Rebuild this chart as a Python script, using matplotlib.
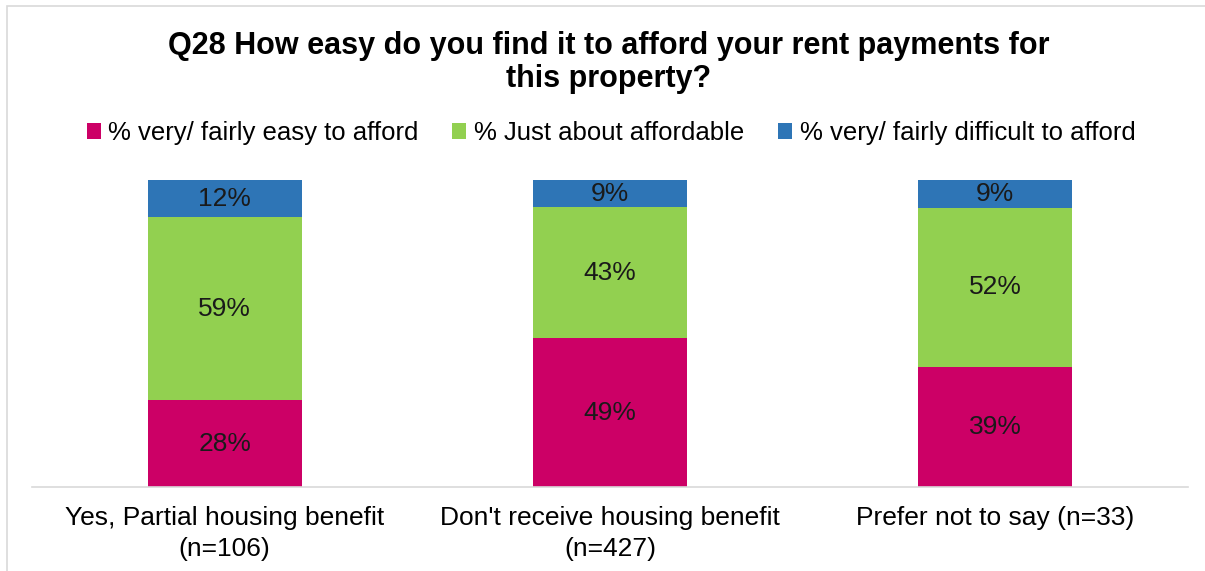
import numpy as np
import matplotlib.pyplot as plt
from matplotlib.patches import Rectangle

plt.rcParams['font.family'] = ['Liberation Sans', 'DejaVu Sans']

categories = ['Yes, Partial housing benefit\n(n=106)',
              "Don't receive housing benefit\n(n=427)",
              'Prefer not to say (n=33)']
series = ['% very/ fairly easy to afford',
          '% Just about affordable',
          '% very/ fairly difficult to afford']
easy = [28, 49, 39]
just = [59, 43, 52]
difficult = [12, 9, 9]
colors = ['#CC0066', '#92D050', '#2E75B6']

values = np.array([easy, just, difficult], dtype=float)
# 100% stacked: scale each column to its total
shares = values / values.sum(axis=0) * 100

fig = plt.figure(figsize=(12.05, 5.71), dpi=100)
ax = fig.add_axes([32 / 1205, 1 - 487 / 571, 1156 / 1205, 307 / 571])

x = np.arange(len(categories))
bottom = np.zeros(len(categories))
for i in range(len(series)):
    bars = ax.bar(x, shares[i], 0.4, bottom=bottom, color=colors[i],
                  label=series[i], linewidth=0)
    for j, b in enumerate(bars):
        ax.text(b.get_x() + b.get_width() / 2, bottom[j] + shares[i][j] / 2,
                '%d%%' % values[i][j], ha='center', va='center',
                fontsize=19, color='#1a1a1a')
    bottom += shares[i]

ax.set_xlim(-0.5, 2.5)
ax.set_ylim(0, 100)
ax.set_yticks([])
ax.set_xticks(x)
ax.set_xticklabels(categories, fontsize=19, linespacing=1.35)
ax.tick_params(axis='x', length=0, pad=14)
for s in ['top', 'right', 'left']:
    ax.spines[s].set_visible(False)
ax.spines['bottom'].set_color('#d9d9d9')
ax.spines['bottom'].set_linewidth(1.2)

fig.text(0.505, 1 - 46 / 571, 'Q28 How easy do you find it to afford your rent payments for',
         ha='center', va='center', fontsize=22, fontweight='bold')
fig.text(0.505, 1 - 79 / 571, 'this property?',
         ha='center', va='center', fontsize=22, fontweight='bold')

fig.legend(loc='center', bbox_to_anchor=(0.507, 1 - 133 / 571), ncol=3,
           frameon=False, fontsize=18.5, handlelength=0.55, handleheight=0.55,
           handletextpad=0.3, columnspacing=1.3)

# outer chart frame
fig.patches.append(Rectangle((7 / 1205, -0.01), 1.1, 1 - 6 / 571 + 0.01,
                             transform=fig.transFigure, fill=False,
                             edgecolor='#d9d9d9', linewidth=1.2))

fig.savefig('out.png', dpi=100)
